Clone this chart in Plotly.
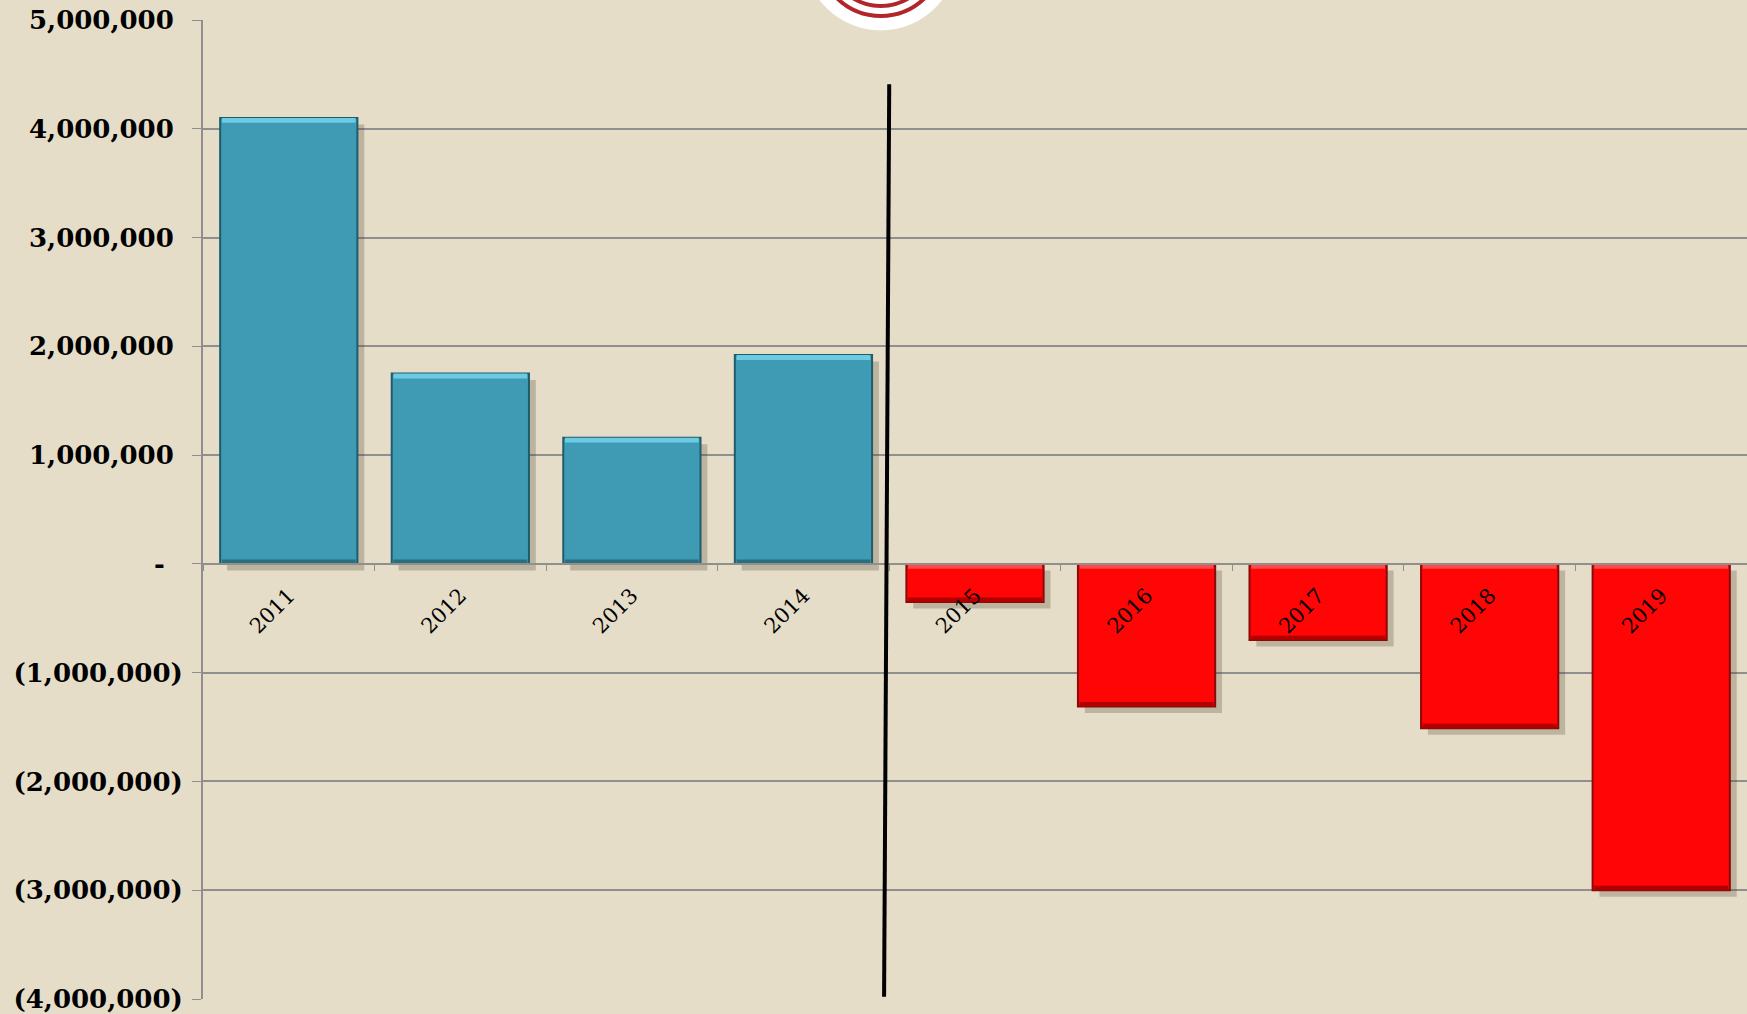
import plotly.graph_objects as go

years = ["2011", "2012", "2013", "2014", "2015", "2016", "2017", "2018", "2019"]
values = [4_100_000, 1_750_000, 1_160_000, 1_920_000, -350_000, -1_310_000, -700_000, -1_510_000, -3_000_000]

tick_vals = [5_000_000, 4_000_000, 3_000_000, 2_000_000, 1_000_000, 0,
             -1_000_000, -2_000_000, -3_000_000, -4_000_000]
tick_text = ["5,000,000 ", "4,000,000 ", "3,000,000 ", "2,000,000 ", "1,000,000 ", "-  ",
             "(1,000,000)", "(2,000,000)", "(3,000,000)", "(4,000,000)"]

BG = "#E5DDC8"
GRID = "#8F8F8F"

fill = ["#3F9BB3" if v >= 0 else "#FF0505" for v in values]
edge = ["#1F5C6C" if v >= 0 else "#8A0A0A" for v in values]
light = ["#6CCBE3" if v >= 0 else "#FF4A4A" for v in values]
dark = ["#2A6E80" if v >= 0 else "#B00000" for v in values]

# bevel strip heights (in value units, roughly 4-5 px)
hi = 45_000
lo = 40_000

fig = go.Figure()

# drop shadow, nudged right and down
fig.add_trace(go.Bar(
    x=years, y=values, base=[-60_000] * len(values),
    width=0.8, offset=-0.36,
    marker=dict(color="rgba(70,60,40,0.25)", line=dict(width=0)),
    hoverinfo="skip",
))
fig.add_trace(go.Bar(
    x=years, y=values, width=0.8, offset=-0.4,
    marker=dict(color=fill, line=dict(color=edge, width=2)),
))
# lighter top edge
fig.add_trace(go.Bar(
    x=years, y=[hi] * len(values),
    base=[(v - hi) if v >= 0 else -hi for v in values],
    width=0.78, offset=-0.39,
    marker=dict(color=light, line=dict(width=0)),
    hoverinfo="skip",
))
# darker bottom edge
fig.add_trace(go.Bar(
    x=years, y=[lo] * len(values),
    base=[0 if v >= 0 else v for v in values],
    width=0.78, offset=-0.39,
    marker=dict(color=dark, line=dict(width=0)),
    hoverinfo="skip",
))

# divider between actual and projected years
fig.add_shape(
    type="line", xref="x", yref="y",
    x0=3.5, x1=3.47, y0=4_410_000, y1=-3_980_000,
    line=dict(color="black", width=4),
)

# logo peeking in at the top
logo_x = 0.439
logo_y = 1.0685
for r, col, fc in [(77, "white", "white"), (63, "#B0262B", "rgba(0,0,0,0)"), (53, "#B0262B", "rgba(0,0,0,0)")]:
    fig.add_shape(
        type="circle", xref="paper", yref="paper",
        xsizemode="pixel", ysizemode="pixel",
        xanchor=logo_x, yanchor=logo_y,
        x0=-r, x1=r, y0=-r, y1=r,
        fillcolor=fc,
        line=dict(color=col, width=1 if fc == "white" else 4),
        layer="below",
    )

fig.update_layout(
    width=1747,
    height=1014,
    margin=dict(l=203, r=0, t=20, b=15),
    paper_bgcolor=BG,
    plot_bgcolor=BG,
    showlegend=False,
    barmode="overlay",
    xaxis=dict(
        type="category",
        anchor="free",
        position=4 / 9,
        showgrid=False,
        showline=True,
        linecolor=GRID,
        linewidth=2,
        ticks="outside",
        tickson="boundaries",
        ticklen=6,
        tickcolor=GRID,
        tickangle=-45,
        ticklabelstandoff=10,
        tickfont=dict(family="DejaVu Serif", size=21, color="black"),
    ),
    yaxis=dict(
        range=[-4_000_000, 5_000_000],
        tickvals=tick_vals,
        ticktext=tick_text,
        showgrid=True,
        gridcolor=GRID,
        gridwidth=1.5,
        zeroline=False,
        showline=True,
        linecolor=GRID,
        linewidth=2,
        ticks="outside",
        ticklen=9,
        tickcolor=GRID,
        ticklabelstandoff=4,
        ticklabeloverflow="allow",
        tickfont=dict(family="DejaVu Serif", size=26, color="black", weight="bold"),
    ),
)

fig.write_html(
    "out.html",
    config={"displayModeBar": False},
    post_script="document.body.style.margin='0';",
)
